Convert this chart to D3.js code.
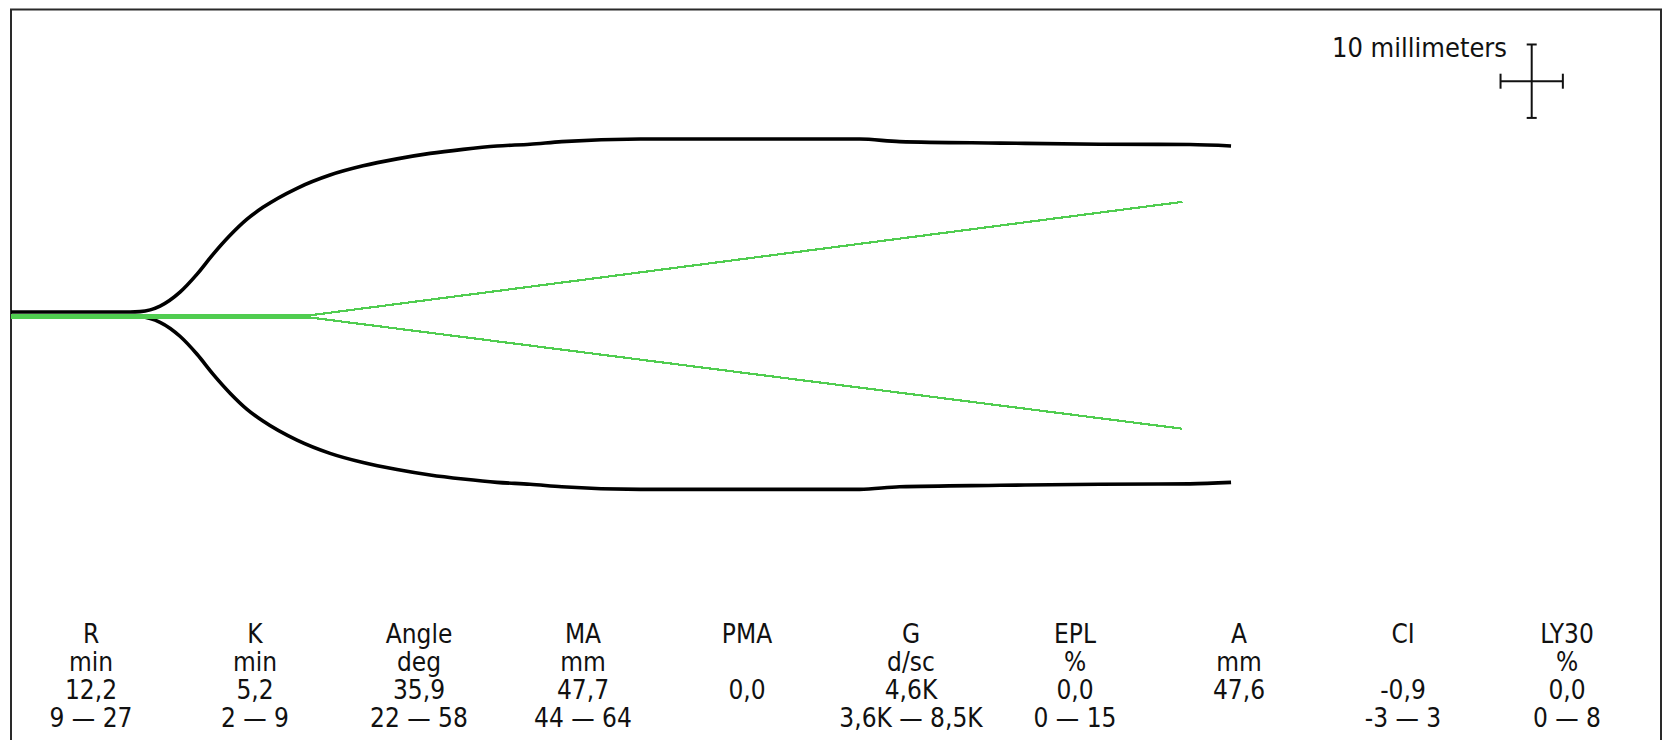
<!DOCTYPE html>
<html>
<head>
<meta charset="utf-8">
<script src="https://cdn.jsdelivr.net/npm/d3@7"></script>
<style>
  html, body { margin: 0; padding: 0; background: #fff; }
  svg { display: block; }
  text { font-family: "DejaVu Sans Condensed", "DejaVu Sans", sans-serif; font-stretch: condensed; fill: #111; }
</style>
</head>
<body>
<svg id="chart" width="1665" height="740"></svg>
<script>
// ---- data ----
// TEG trace: time (min) vs total amplitude (mm)
const times = [0, 9.55, 10.35, 11.96, 13.56, 14.93, 16.21, 17.58, 18.94, 20.22, 22.95, 25.6, 28.25, 30.98, 33.63, 36.28, 39.0, 41.65, 44.2, 50.5, 68.1, 71.3, 79.4, 87.4, 94.6, 97.9];
const amplitude = [0.6, 0.6, 0.7, 2.2, 6.0, 10.9, 16.3, 21.5, 25.9, 29.1, 34.3, 37.9, 40.4, 42.3, 43.8, 44.9, 45.8, 46.3, 47.0, 47.7, 47.7, 47.0, 46.6, 46.3, 46.2, 45.8];
// green reference lines: time (min) vs displacement (mm)
const greenTimes = [0, 24.0, 94.0];
const greenUpper = [-0.15, -0.15, 15.3];
const greenLower = [-0.45, -0.45, -15.6];
// parameter table
const paramNames = ["R", "K", "Angle", "MA", "PMA", "G", "EPL", "A", "CI", "LY30"];
const paramUnits = ["min", "min", "deg", "mm", "", "d/sc", "%", "mm", "", "%"];
const paramValues = ["12,2", "5,2", "35,9", "47,7", "0,0", "4,6K", "0,0", "47,6", "-0,9", "0,0"];
const paramRanges = ["9 \u2014 27", "2 \u2014 9", "22 \u2014 58", "44 \u2014 64", "", "3,6K \u2014 8,5K", "0 \u2014 15", "", "-3 \u2014 3", "0 \u2014 8"];
const scaleLabel = "10 millimeters";

// ---- drawing ----
const svg = d3.select("#chart");
const W = 1665, H = 740;
const frameL = 11, frameR = 1661, frameT = 9.5;

const x = d3.scaleLinear().domain([0, 132.4]).range([frameL, frameR]);
const y = d3.scaleLinear().domain([-30, 30]).range([534.5, 93.9]);

// frame
svg.append("path")
  .attr("d", `M${frameL},${H + 5}V${frameT}H${frameR}V${H + 5}`)
  .attr("fill", "none").attr("stroke", "#2a2a2a").attr("stroke-width", 2);

// black trace (upper and lower envelopes)
const trace = times.map((t, i) => ({ t, a: amplitude[i] }));
const upperLine = d3.line().x(d => x(d.t)).y(d => y(d.a / 2)).curve(d3.curveMonotoneX);
const lowerLine = d3.line().x(d => x(d.t)).y(d => y(-d.a / 2)).curve(d3.curveMonotoneX);
svg.append("path").attr("d", upperLine(trace))
  .attr("fill", "none").attr("stroke", "#000").attr("stroke-width", 3.6).attr("stroke-linejoin", "round");
svg.append("path").attr("d", lowerLine(trace))
  .attr("fill", "none").attr("stroke", "#000").attr("stroke-width", 3.6).attr("stroke-linejoin", "round");

// green lines
const gLine = d3.line().x(d => x(d.t)).y(d => y(d.v));
[greenUpper, greenLower].forEach(vals => {
  const pts = greenTimes.map((t, i) => ({ t, v: vals[i] }));
  svg.append("path").attr("d", gLine(pts))
    .attr("fill", "none").attr("stroke", "#50cd50").attr("stroke-width", 2.2)
    .attr("shape-rendering", "crispEdges");
});

// scale cross (10 mm vertical, 5 min horizontal)
const cx = 1531.7, cy = 81.2;
const vHalf = (y(0) - y(10)) / 2;
const hHalf = (x(5) - x(0)) / 2;
const cross = svg.append("g").attr("stroke", "#111").attr("stroke-width", 2).attr("fill", "none");
cross.append("line").attr("x1", cx).attr("x2", cx).attr("y1", cy - vHalf).attr("y2", cy + vHalf);
cross.append("line").attr("x1", cx - 5).attr("x2", cx + 5).attr("y1", cy - vHalf).attr("y2", cy - vHalf);
cross.append("line").attr("x1", cx - 5).attr("x2", cx + 5).attr("y1", cy + vHalf).attr("y2", cy + vHalf);
cross.append("line").attr("x1", cx - hHalf).attr("x2", cx + hHalf).attr("y1", cy).attr("y2", cy);
cross.append("line").attr("x1", cx - hHalf).attr("x2", cx - hHalf).attr("y1", cy - 7.5).attr("y2", cy + 7.5);
cross.append("line").attr("x1", cx + hHalf).attr("x2", cx + hHalf).attr("y1", cy - 7.5).attr("y2", cy + 7.5);

svg.append("text").attr("x", 1332).attr("y", 57).attr("font-size", 27).text(scaleLabel);

// parameter table
const col = d3.scalePoint().domain(paramNames).range([91, 1567]);
const rows = [paramNames, paramUnits, paramValues, paramRanges];
const baselines = [643, 670.5, 698.5, 726.5];
rows.forEach((row, r) => {
  svg.append("g").selectAll("text").data(paramNames).join("text")
    .attr("x", d => col(d)).attr("y", baselines[r])
    .attr("text-anchor", "middle").attr("font-size", 26)
    .text((d, i) => row[i]);
});
</script>
</body>
</html>
